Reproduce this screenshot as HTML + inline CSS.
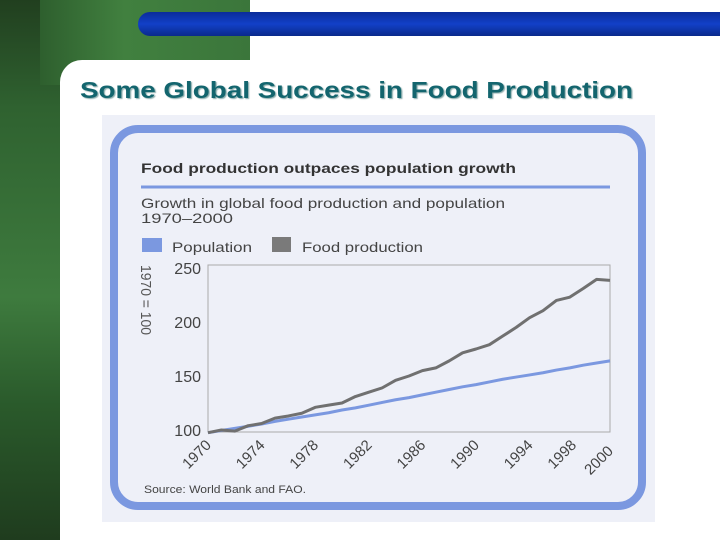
<!DOCTYPE html>
<html><head><meta charset="utf-8"><style>
body{margin:0;width:720px;height:540px;overflow:hidden;background:#fff;font-family:"Liberation Sans",sans-serif;position:relative}
.abs{position:absolute}
</style></head><body>
<div class="abs" style="left:0;top:0;width:60px;height:540px;background:linear-gradient(#213f1f 0%,#2f6230 20%,#3e7b3e 55%,#2a5a2b 75%,#1f3c1e 100%)"></div>
<div class="abs" style="left:40px;top:0;width:210px;height:85px;background:linear-gradient(90deg,#2e5f2e,#41803f 40%,#3b763b)"></div>
<div class="abs" style="left:60px;top:60px;width:660px;height:480px;background:#fff;border-top-left-radius:22px"></div>
<div class="abs" style="left:138px;top:12px;width:590px;height:24px;border-radius:12px 0 0 12px;background:linear-gradient(#0a2c9a,#1240c8 50%,#0a2a8c)"></div>
<svg class="abs" style="left:0;top:0" width="720" height="540">
<text x="80" y="98" font-size="23" font-weight="bold" fill="#13656e" textLength="553" lengthAdjust="spacingAndGlyphs" style="text-shadow:1px 1px 1px #8aa">Some Global Success in Food Production</text>
<rect x="102" y="115" width="553" height="407" fill="#eef0f8"/>
<rect x="114" y="129" width="528" height="377" rx="24" fill="#eef0f8" stroke="#7b98e0" stroke-width="8"/>
<text x="141" y="173" font-size="13.5" font-weight="bold" fill="#333" textLength="375" lengthAdjust="spacingAndGlyphs">Food production outpaces population growth</text>
<line x1="141" y1="187" x2="610" y2="187" stroke="#7b98e0" stroke-width="3"/>
<text x="141" y="208" font-size="14" fill="#444" textLength="364" lengthAdjust="spacingAndGlyphs">Growth in global food production and population</text>
<text x="141" y="223" font-size="14" fill="#444" textLength="92" lengthAdjust="spacingAndGlyphs">1970–2000</text>
<rect x="142" y="238" width="20" height="14" fill="#7b98e0"/>
<text x="172" y="252" font-size="14" fill="#444" textLength="80" lengthAdjust="spacingAndGlyphs">Population</text>
<rect x="272" y="237" width="19" height="15" fill="#7a7a7a"/>
<text x="302" y="252" font-size="14" fill="#444" textLength="121" lengthAdjust="spacingAndGlyphs">Food production</text>
<text transform="translate(141,265) rotate(90)" font-size="15" fill="#555" textLength="70" lengthAdjust="spacingAndGlyphs">1970 = 100</text>
<rect x="208" y="265" width="402" height="167" fill="none" stroke="#aaa" stroke-width="1"/>
<g id="marks"></g>
<text x="144" y="493" font-size="11" fill="#444" textLength="162" lengthAdjust="spacingAndGlyphs">Source: World Bank and FAO.</text>
</svg>
<script>
const years=[1970,1971,1972,1973,1974,1975,1976,1977,1978,1979,1980,1981,1982,1983,1984,1985,1986,1987,1988,1989,1990,1991,1992,1993,1994,1995,1996,1997,1998,1999,2000];
const food=[97.5,100,99,104,106,111,113,115.5,121,123,125,131,135,139,146,150,155,157.5,164,171.5,175,179,187,195,204,210.5,220,223,231,239.5,238.5];
const population=[97.5,99.5,101.5,103.5,105.5,108,110,112,114,116,118.5,120.5,123,125.5,128,130,132.5,135,137.5,140,142,144.5,147,149,151,153,155.5,157.5,160,162,164];
const yTicks=[100,150,200,250];
const xTicks=[1970,1974,1978,1982,1986,1990,1994,1998,2000];
const X=y=>208+(y-1970)/30*402;
const Y=v=>430-(v-100)/150*162;
const g=document.getElementById('marks');
const NS='http://www.w3.org/2000/svg';
function line(arr,color,name){
 const p=document.createElementNS(NS,'polyline');
 p.setAttribute('points',arr.map((v,i)=>X(years[i])+','+Y(v)).join(' '));
 p.setAttribute('fill','none');p.setAttribute('stroke',color);p.setAttribute('stroke-width','3');p.setAttribute('stroke-linejoin','round');
 
 
 g.appendChild(p);
}
line(population,'#7b98e0','population-line');
line(food,'#707070','food-production-line');
yTicks.forEach(t=>{
 const e=document.createElementNS(NS,'text');
 e.setAttribute('x',201);e.setAttribute('y',Y(t)+6);e.setAttribute('text-anchor','end');e.setAttribute('font-size','16');e.setAttribute('fill','#444');
 e.textContent=t;
 
 
 g.appendChild(e);
});
xTicks.forEach(t=>{
 const e=document.createElementNS(NS,'text');
 const x=X(t)+(t===1998?-6:4), y=t===2000?452:446;
 e.setAttribute('transform','translate('+x+','+y+') rotate(-45)');
 e.setAttribute('text-anchor','end');e.setAttribute('font-size','15');e.setAttribute('fill','#444');
 e.textContent=t;
 
 
 g.appendChild(e);
});
</script>
</body></html>
